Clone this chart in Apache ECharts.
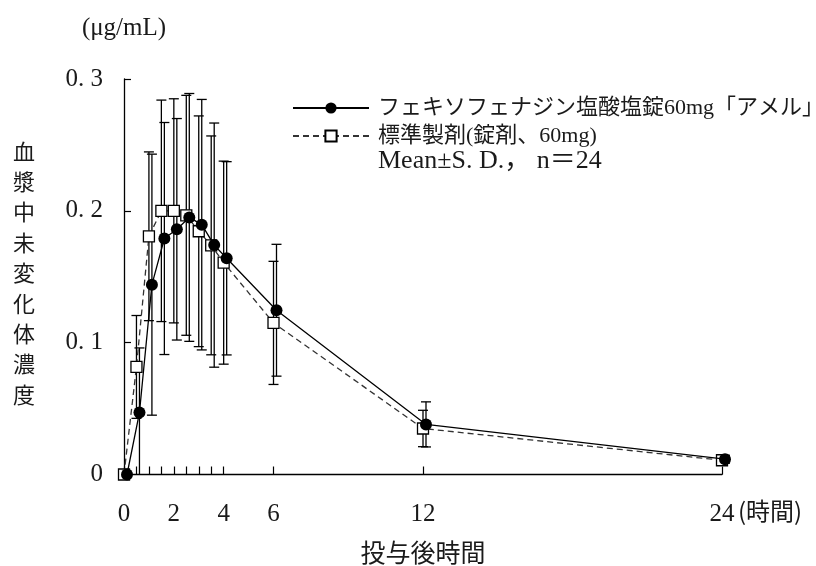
<!DOCTYPE html>
<html>
<head>
<meta charset="utf-8">
<script src="https://cdn.jsdelivr.net/npm/echarts@6/dist/echarts.min.js"></script>
<style>
html,body{margin:0;padding:0;background:#fff;}
#c{width:816px;height:566px;}
</style>
</head>
<body>
<div id="c"></div>
<script>
// ---- data ----
const times = [0, 0.5, 1, 1.5, 2, 2.5, 3, 3.5, 4, 6, 12, 24];
const testName = 'フェキソフェナジン塩酸塩錠60mg「アメル」';
const refName = '標準製剤(錠剤、60mg)';
const testMean = [0, 0.047, 0.144, 0.179, 0.186, 0.195, 0.1895, 0.174, 0.164, 0.1246, 0.038, 0.0116];
const testSD   = [0, 0.049, 0.099, 0.088, 0.084, 0.094, 0.095, 0.0926, 0.0733, 0.050, 0.0171, 0.003];
const refMean  = [0, 0.0816, 0.1807, 0.200, 0.200, 0.1966, 0.1845, 0.1738, 0.1607, 0.115, 0.0349, 0.0108];
const refSD    = [0, 0.039, 0.064, 0.084, 0.085, 0.091, 0.0875, 0.083, 0.077, 0.0467, 0.0138, 0.003];
const xTickValues = [0, 0.5, 1, 1.5, 2, 2.5, 3, 3.5, 4, 6, 12, 24];
const xLabelValues = [0, 2, 4, 6, 12, 24];
const yLabels = {0: '0', 0.1: '0. 1', 0.2: '0. 2', 0.3: '0. 3'};

const FONT = "'Liberation Serif', 'Noto Sans CJK JP', serif";

const chart = echarts.init(document.getElementById('c'), null, {renderer: 'canvas'});

function pairs(ms) { return times.map((t, i) => [t, ms[i]]); }
function triples(ms, sds) { return times.map((t, i) => [t, ms[i], sds[i]]); }

function errRender(params, api) {
  const t = api.value(0), m = api.value(1), s = api.value(2);
  if (!s) return null;
  const lo = Math.max(0, m - s), hi = m + s;
  const pHi = api.coord([t, hi]), pLo = api.coord([t, lo]);
  const w = 5;
  const st = {stroke: '#000', lineWidth: 1.3};
  const ch = [
    {type: 'line', shape: {x1: pHi[0], y1: pHi[1], x2: pLo[0], y2: pLo[1]}, style: st},
    {type: 'line', shape: {x1: pHi[0] - w, y1: pHi[1], x2: pHi[0] + w, y2: pHi[1]}, style: st}
  ];
  if (m - s > 0) {
    ch.push({type: 'line', shape: {x1: pLo[0] - w, y1: pLo[1], x2: pLo[0] + w, y2: pLo[1]}, style: st});
  }
  return {type: 'group', children: ch};
}

const option = {
  animation: false,
  backgroundColor: '#fff',
  textStyle: {fontFamily: FONT, color: '#1a1a1a'},
  grid: [
    {left: 124, right: 94, top: 79, bottom: 91.5, outerBoundsMode: 'none', containLabel: false},
    {left: 127, right: 91, top: 79, bottom: 91.5, outerBoundsMode: 'none', containLabel: false}
  ],
  legend: {
    data: [testName, refName],
    orient: 'vertical',
    left: 292,
    top: 96,
    padding: 0,
    itemWidth: 76,
    itemHeight: 14,
    itemGap: 4,
    selectedMode: false,
    textStyle: {fontFamily: FONT, fontSize: 22, color: '#1a1a1a', lineHeight: 24, padding: [0, 0, 0, 4]}
  },
  xAxis: [
    {
      type: 'value', gridIndex: 0, min: 0, max: 24,
      name: '投与後時間', nameLocation: 'middle', nameGap: 68,
      nameTextStyle: {fontFamily: FONT, fontSize: 25, color: '#1a1a1a'},
      axisLine: {show: true, lineStyle: {color: '#000', width: 1.3}},
      axisTick: {show: true, inside: true, length: 8, customValues: xTickValues, lineStyle: {color: '#000', width: 1.2}},
      axisLabel: {show: true, customValues: xLabelValues, margin: 27, fontSize: 25, fontFamily: FONT, color: '#1a1a1a',
        formatter: v => String(v)},
      splitLine: {show: false}
    },
    {type: 'value', gridIndex: 1, min: 0, max: 24, show: false}
  ],
  yAxis: [
    {
      type: 'value', gridIndex: 0, min: 0, max: 0.3, interval: 0.1,
      name: '(μg/mL)', nameLocation: 'end', nameGap: 38,
      nameTextStyle: {fontFamily: FONT, fontSize: 25, color: '#1a1a1a', align: 'center'},
      axisLine: {show: true, lineStyle: {color: '#000', width: 1.3}},
      axisTick: {show: true, inside: true, length: 7, lineStyle: {color: '#000', width: 1.2}},
      axisLabel: {margin: 21, fontSize: 25, fontFamily: FONT, color: '#1a1a1a',
        formatter: v => yLabels[Math.round(v * 10) / 10] ?? String(v)},
      splitLine: {show: false}
    },
    {type: 'value', gridIndex: 1, min: 0, max: 0.3, show: false}
  ],
  series: [
    {
      type: 'custom', name: 'refSD', xAxisIndex: 0, yAxisIndex: 0, z: 1,
      renderItem: errRender, data: triples(refMean, refSD), encode: {x: 0, y: 1}
    },
    {
      type: 'custom', name: 'testSD', xAxisIndex: 1, yAxisIndex: 1, z: 1,
      renderItem: errRender, data: triples(testMean, testSD), encode: {x: 0, y: 1}
    },
    {
      type: 'line', name: refName, xAxisIndex: 0, yAxisIndex: 0, z: 3,
      data: pairs(refMean),
      symbol: 'rect', symbolSize: 11, showAllSymbol: true,
      itemStyle: {color: '#fff', borderColor: '#000', borderWidth: 1.3},
      lineStyle: {color: '#333', width: 1.3, type: [6, 4]}
    },
    {
      type: 'line', name: testName, xAxisIndex: 1, yAxisIndex: 1, z: 4,
      data: pairs(testMean),
      symbol: 'circle', symbolSize: 12, showAllSymbol: true,
      itemStyle: {color: '#000', borderColor: '#000', borderWidth: 0},
      lineStyle: {color: '#000', width: 1.3, type: 'solid'}
    }
  ],
  graphic: [
    {
      type: 'text', left: 13, top: 136,
      style: {text: '血\n漿\n中\n未\n変\n化\n体\n濃\n度', font: "22px 'Noto Sans CJK JP'", fill: '#1a1a1a', lineHeight: 30.4, align: 'center'}
    },
    {
      type: 'text', left: 738, top: 499,
      style: {text: '(時間)', font: "24px 'Noto Sans CJK JP'", fill: '#1a1a1a'}
    },
    {
      type: 'text', left: 378, top: 148,
      style: {text: 'Mean±S. D.， n＝24', font: "26px 'Liberation Serif', 'Noto Sans CJK JP', serif", fill: '#1a1a1a'}
    }
  ]
};
chart.setOption(option);
</script>
</body>
</html>
